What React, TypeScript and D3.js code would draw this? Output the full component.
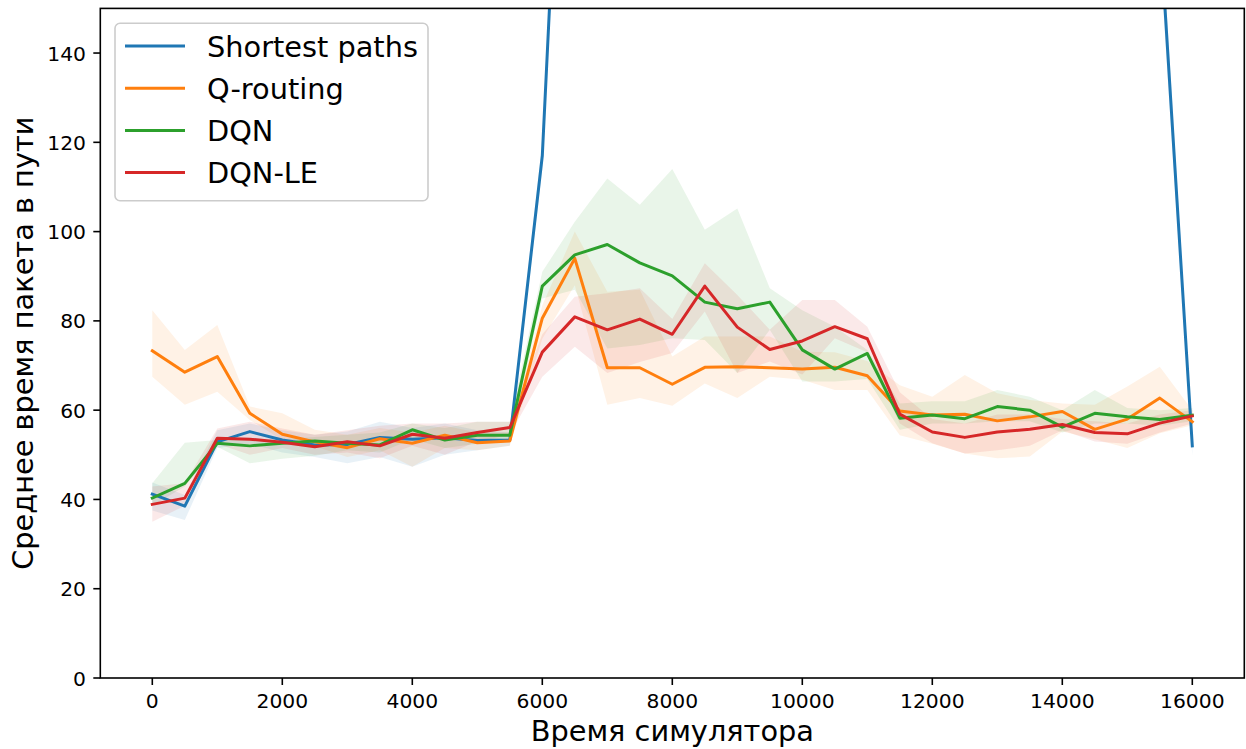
import React from "react";
import * as d3 from "d3";

// Simulation time steps
const steps = [0, 500, 1000, 1500, 2000, 2500, 3000, 3500, 4000, 4500, 5000, 5500, 6000, 6500, 7000, 7500, 8000, 8500, 9000, 9500, 10000, 10500, 11000, 11500, 12000, 12500, 13000, 13500, 14000, 14500, 15000, 15500, 16000];

// Shortest paths
const spMean = [41.2, 38.5, 52.9, 55.2, 53.3, 52.2, 52.3, 53.9, 53.5, 53.8, 53.2, 53.3, 117, 267, 330, 362, 380, 395, 401, 410, 406, 398, 385, 370, 352, 331, 310, 284, 262, 238, 212, 168.7, 52];
const spUpper = [43.8, 41.0, 55.5, 57.0, 55.5, 54.5, 55.2, 57.4, 56.0, 57.0, 55.5, 55.0, 120, 275, 340, 372, 390, 405, 411, 420, 416, 408, 395, 380, 362, 341, 320, 294, 272, 248, 222, 175, 54.5];
const spLower = [37.5, 35.4, 51.5, 52.5, 50.5, 49.5, 48.1, 49.5, 47.3, 50.0, 51.0, 52.0, 114, 259, 320, 352, 370, 385, 391, 400, 396, 388, 375, 360, 342, 321, 300, 274, 252, 228, 202, 162, 49.8];

// Q-routing
const qMean = [73.3, 68.5, 72.0, 59.3, 54.6, 52.9, 51.6, 53.6, 52.6, 54.4, 52.7, 53.1, 80.6, 94.0, 69.5, 69.5, 65.8, 69.6, 69.7, 69.5, 69.2, 69.6, 67.7, 59.8, 58.9, 59.1, 57.6, 58.5, 59.7, 55.7, 58.0, 62.7, 57.4];
const qUpper = [82.4, 73.5, 79.1, 60.8, 59.3, 55.6, 54.5, 56.0, 55.0, 56.5, 55.0, 55.0, 83.5, 100.0, 86.5, 87.0, 72.0, 76.5, 76.5, 76.5, 73.1, 73.0, 71.0, 65.6, 63.0, 67.9, 63.8, 62.3, 61.5, 61.2, 65.3, 69.7, 60.0];
const qLower = [67.5, 61.2, 64.1, 57.8, 53.3, 51.9, 49.5, 51.0, 47.3, 51.5, 51.0, 52.0, 76.0, 88.0, 61.2, 62.7, 61.0, 66.0, 62.7, 67.5, 66.8, 64.5, 64.5, 54.4, 52.5, 50.3, 49.2, 49.6, 55.2, 53.5, 51.5, 54.8, 56.6];

// DQN
const dqnMean = [40.3, 43.6, 52.6, 52.0, 52.6, 53.1, 52.6, 52.2, 55.6, 53.3, 54.4, 54.4, 87.8, 94.8, 97.1, 93.0, 90.1, 84.2, 82.7, 84.2, 73.5, 69.2, 72.7, 58.2, 58.9, 58.1, 60.8, 60.0, 56.2, 59.3, 58.5, 57.9, 58.9];
const dqnUpper = [43.6, 52.7, 53.3, 53.3, 53.5, 54.0, 54.5, 55.0, 57.0, 56.0, 57.4, 57.4, 91.0, 102.2, 111.9, 106.0, 114.0, 100.4, 105.2, 87.3, 82.4, 78.7, 73.5, 61.5, 62.0, 62.0, 64.5, 63.0, 60.0, 64.5, 60.5, 60.0, 60.5];
const dqnLower = [38.6, 42.9, 51.8, 48.1, 49.1, 49.8, 51.0, 50.5, 53.5, 51.5, 52.5, 53.0, 85.0, 87.0, 73.8, 74.6, 76.1, 75.7, 68.3, 78.0, 66.4, 66.4, 67.0, 55.6, 57.0, 57.0, 57.5, 57.5, 55.0, 57.0, 57.0, 56.5, 57.5];

// DQN-LE
const leMean = [38.9, 40.3, 53.7, 53.5, 52.8, 51.8, 52.9, 52.0, 54.6, 53.7, 55.0, 56.1, 73.0, 80.9, 78.0, 80.4, 77.0, 87.8, 78.6, 73.6, 75.5, 78.7, 76.0, 59.1, 55.1, 53.9, 55.1, 55.7, 56.8, 55.0, 54.7, 57.1, 58.7];
const leUpper = [42.9, 43.6, 55.9, 57.4, 55.9, 54.5, 55.5, 56.5, 57.0, 57.0, 57.4, 57.4, 77.0, 85.4, 86.2, 87.3, 80.4, 92.9, 85.8, 78.0, 84.7, 84.7, 78.7, 64.0, 58.0, 57.0, 59.0, 59.0, 58.0, 57.5, 57.0, 59.0, 60.0];
const leLower = [35.0, 38.6, 52.5, 50.0, 51.5, 50.0, 50.5, 49.2, 52.0, 50.0, 53.0, 54.5, 67.5, 74.2, 68.3, 70.8, 72.8, 82.1, 68.3, 70.9, 68.0, 76.1, 73.0, 57.0, 52.6, 50.3, 51.0, 52.0, 55.5, 53.0, 52.5, 55.0, 57.0];

const seriesNames = ["Shortest paths", "Q-routing", "DQN", "DQN-LE"];
const seriesColors = ["#1f77b4", "#ff7f0e", "#2ca02c", "#d62728"];

const xTicks = [0, 2000, 4000, 6000, 8000, 10000, 12000, 14000, 16000];
const yTicks = [0, 20, 40, 60, 80, 100, 120, 140];

const xLabel = "Время симулятора";
const yLabel = "Среднее время пакета в пути";

const W = 1246;
const H = 749;
const left = 100.3;
const right = 1244.3;
const top = 8.4;
const bottom = 678;
const FONT = "DejaVu Sans, sans-serif";

export default function App() {
  const x = d3.scaleLinear().domain([-800, 16800]).range([left, right]);
  const y = d3.scaleLinear().domain([0, 150]).range([bottom, top]);

  const series = [
    { mean: spMean, lo: spLower, hi: spUpper },
    { mean: qMean, lo: qLower, hi: qUpper },
    { mean: dqnMean, lo: dqnLower, hi: dqnUpper },
    { mean: leMean, lo: leLower, hi: leUpper },
  ];

  const line = d3
    .line<number>()
    .x((_, i) => x(steps[i]))
    .y((d) => y(d));

  const band = (lo: number[], hi: number[]) =>
    d3
      .area<number>()
      .x((_, i) => x(steps[i]))
      .y0((_, i) => y(lo[i]))
      .y1((_, i) => y(hi[i]))(steps) as string;

  const legendRows = [46, 88.2, 130.4, 172.6];

  return (
    <svg
      width={W}
      height={H}
      style={{ position: "absolute", left: 0, top: 0, background: "#fff" }}
      fontFamily={FONT}
    >
      <defs>
        <clipPath id="plot-area">
          <rect x={left} y={top} width={right - left} height={bottom - top} />
        </clipPath>
      </defs>
      <rect x={0} y={0} width={W} height={H} fill="#fff" />

      <g clipPath="url(#plot-area)">
        {series.map((s, k) => (
          <path key={"b" + k} d={band(s.lo, s.hi)} fill={seriesColors[k]} fillOpacity={0.1} stroke="none" />
        ))}
        {series.map((s, k) => (
          <path
            key={"l" + k}
            d={line(s.mean) as string}
            fill="none"
            stroke={seriesColors[k]}
            strokeWidth={3}
            strokeLinejoin="round"
            strokeLinecap="square"
          />
        ))}
      </g>

      {/* axes frame */}
      <rect x={left} y={top} width={right - left} height={bottom - top} fill="none" stroke="#000" strokeWidth={1.6} />

      {/* x ticks */}
      {xTicks.map((t) => (
        <g key={"x" + t}>
          <line x1={x(t)} x2={x(t)} y1={bottom} y2={bottom + 7} stroke="#000" strokeWidth={1.6} />
          <text x={x(t)} y={708} fontSize={20.3} textAnchor="middle" fill="#000">
            {t}
          </text>
        </g>
      ))}

      {/* y ticks */}
      {yTicks.map((t) => (
        <g key={"y" + t}>
          <line x1={left - 7} x2={left} y1={y(t)} y2={y(t)} stroke="#000" strokeWidth={1.6} />
          <text x={86} y={y(t) + 7.5} fontSize={20.3} textAnchor="end" fill="#000">
            {t}
          </text>
        </g>
      ))}

      {/* axis labels */}
      <text x={(left + right) / 2} y={741} fontSize={28.8} textAnchor="middle" fill="#000">
        {xLabel}
      </text>
      <text
        transform={`translate(33, ${(top + bottom) / 2}) rotate(-90)`}
        fontSize={28.8}
        textAnchor="middle"
        fill="#000"
      >
        {yLabel}
      </text>

      {/* legend */}
      <rect x={115} y={23.3} width={313} height={177.4} rx={5} ry={5} fill="#fff" fillOpacity={0.8} stroke="#cccccc" strokeWidth={1.6} />
      {seriesNames.map((name, k) => (
        <g key={"lg" + k}>
          <line x1={125} x2={185} y1={legendRows[k]} y2={legendRows[k]} stroke={seriesColors[k]} strokeWidth={3} />
          <text x={207} y={legendRows[k] + 10.5} fontSize={28.8} fill="#000">
            {name}
          </text>
        </g>
      ))}
    </svg>
  );
}
